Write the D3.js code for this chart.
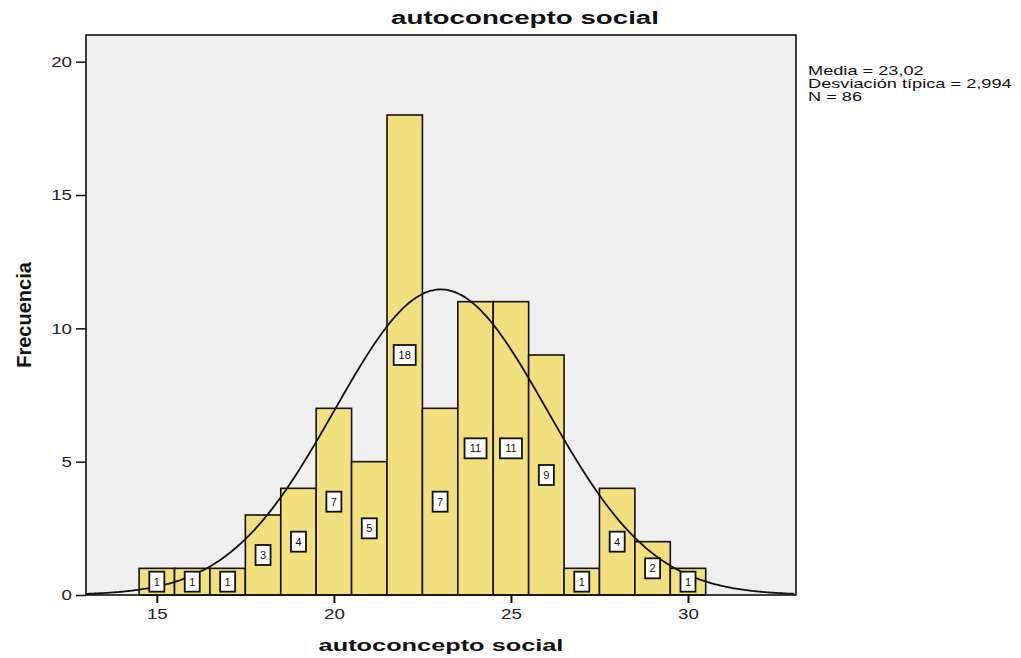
<!DOCTYPE html>
<html><head><meta charset="utf-8">
<script src="https://cdn.jsdelivr.net/npm/d3@7"></script>
<style>body{margin:0;background:#fff;} svg{display:block;font-family:Arial,"Liberation Sans",sans-serif;}</style>
</head><body>
<svg id="chart" width="1021" height="658"></svg>
<script>
const binCenters = [15,16,17,18,19,20,21,22,23,24,25,26,27,28,29,30];
const counts = [1,1,1,3,4,7,5,18,7,11,11,9,1,4,2,1];
const xTicks = [15,20,25,30];
const yTicks = [0,5,10,15,20];
const meanVal = 23.02, sdVal = 2.994, nVal = 86, binWidth = 1;
const statsLines = ["Media = 23,02","Desviación típica = 2,994","N = 86"];
const titleText = "autoconcepto social";
const xLabel = "autoconcepto social";
const yLabel = "Frecuencia";

const svg = d3.select("#chart");
const L = 86, R = 796, T = 35, B = 595;
const SX = 1.25; // horizontal stretch of text
const x = d3.scaleLinear().domain([13, 33.05]).range([L, R]);
const y = d3.scaleLinear().domain([0, 21.0]).range([B, T]);

svg.append("rect").attr("x", L).attr("y", T).attr("width", R - L).attr("height", B - T)
  .attr("fill", "#efefef");

// bars
svg.selectAll("rect.bar").data(binCenters).enter().append("rect").attr("class","bar")
  .attr("x", (d) => x(d - binWidth/2))
  .attr("width", (d) => x(d + binWidth/2) - x(d - binWidth/2))
  .attr("y", (d,i) => y(counts[i]))
  .attr("height", (d,i) => y(0) - y(counts[i]))
  .attr("fill", "#f1e07d").attr("stroke", "#111").attr("stroke-width", 1.6);

// normal curve
const curvePts = d3.range(13, 33.05, 0.05).map(v => [v, nVal*binWidth/(sdVal*Math.sqrt(2*Math.PI))*Math.exp(-0.5*((v-meanVal)/sdVal)**2)]);
svg.append("path").datum(curvePts)
  .attr("d", d3.line().x(d => x(d[0])).y(d => y(d[1])).curve(d3.curveBasis))
  .attr("fill", "none").attr("stroke", "#111").attr("stroke-width", 1.8);

// labels
const lab = svg.selectAll("g.lab").data(binCenters).enter().append("g").attr("class","lab")
  .attr("transform", (d,i) => `translate(${x(d)},${y(counts[i]/2)})`);
lab.append("rect")
  .attr("x", (d,i) => counts[i] >= 10 ? -11 : -7.5)
  .attr("width", (d,i) => counts[i] >= 10 ? 22 : 15)
  .attr("y", -10).attr("height", 20)
  .attr("fill", "#fff").attr("stroke", "#111").attr("stroke-width", 1.8);
lab.append("text").attr("text-anchor","middle").attr("dy", "0.36em")
  .attr("font-size", 11).attr("fill", "#111").text((d,i) => counts[i]);

// frame
svg.append("rect").attr("x", L).attr("y", T).attr("width", R - L).attr("height", B - T)
  .attr("fill", "none").attr("stroke", "#111").attr("stroke-width", 1.6);

// axes
const yAxis = d3.axisLeft(y).tickValues(yTicks).tickSize(10).tickPadding(3);
const gy = svg.append("g").attr("transform", `translate(${L},0)`).call(yAxis);
gy.select(".domain").remove();
gy.selectAll("line").attr("stroke", "#111").attr("stroke-width", 1.5);
gy.selectAll("text").attr("font-size", 15).attr("fill", "#222").attr("font-family", "Arial, 'Liberation Sans', sans-serif")
  .attr("x", -14 / SX).attr("transform", `scale(${SX},1)`);

const xAxis = d3.axisBottom(x).tickValues(xTicks).tickSize(8).tickPadding(5);
const gx = svg.append("g").attr("transform", `translate(0,${B})`).call(xAxis);
gx.select(".domain").remove();
gx.selectAll("line").attr("stroke", "#111").attr("stroke-width", 2);
gx.selectAll("text").attr("font-size", 15).attr("fill", "#222").attr("font-family", "Arial, 'Liberation Sans', sans-serif")
  .attr("transform", `scale(${SX},1)`);

// titles
svg.append("text").attr("x", 0).attr("y", 0).attr("text-anchor","middle")
  .attr("font-size", 18).attr("font-weight","bold").attr("fill","#111")
  .attr("transform","translate(525,24) scale(1.54,1)").text(titleText);
svg.append("text").attr("x", 0).attr("y", 0).attr("text-anchor","middle")
  .attr("font-size", 17).attr("font-weight","bold").attr("fill","#111")
  .attr("transform",`translate(${(L+R)/2},651) scale(1.49,1)`).text(xLabel);
svg.append("text").attr("transform", `translate(31,${(T+B)/2}) rotate(-90)`).attr("text-anchor","middle")
  .attr("font-size", 20).attr("font-weight","bold").attr("fill","#111").text(yLabel);

// stats
const st = svg.append("g").attr("transform","translate(808,0) scale(1.4,1)");
st.selectAll("text").data(statsLines).enter().append("text")
  .attr("x", 0).attr("y", (d,i) => 75 + i*13)
  .attr("font-size", 13).attr("fill","#111").text(d => d);
</script>
</body></html>
